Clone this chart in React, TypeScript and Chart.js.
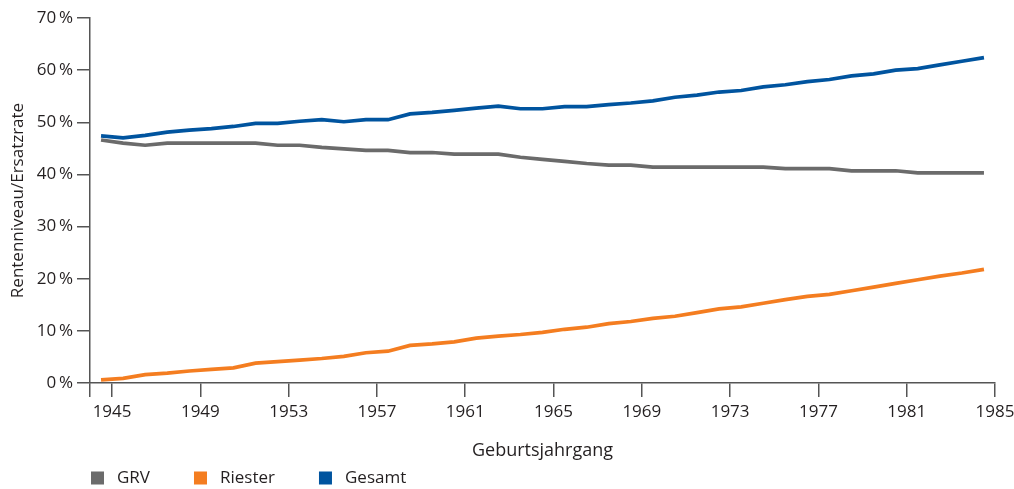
import React, { useEffect, useRef } from 'react';
import { Chart, registerables } from 'chart.js';

Chart.register(...registerables);

// Birth cohorts (Geburtsjahrgang)
const years = [
  1945, 1946, 1947, 1948, 1949, 1950, 1951, 1952, 1953, 1954,
  1955, 1956, 1957, 1958, 1959, 1960, 1961, 1962, 1963, 1964,
  1965, 1966, 1967, 1968, 1969, 1970, 1971, 1972, 1973, 1974,
  1975, 1976, 1977, 1978, 1979, 1980, 1981, 1982, 1983, 1984, 1985,
];

const grv = [
  46.6, 46.0, 45.6, 46.0, 46.0, 46.0, 46.0, 46.0, 45.6, 45.6,
  45.2, 44.9, 44.6, 44.6, 44.2, 44.2, 43.9, 43.9, 43.9, 43.3,
  42.9, 42.5, 42.1, 41.8, 41.8, 41.4, 41.4, 41.4, 41.4, 41.4,
  41.4, 41.1, 41.1, 41.1, 40.7, 40.7, 40.7, 40.3, 40.3, 40.3, 40.3,
];

const riester = [
  0.6, 0.9, 1.6, 1.9, 2.3, 2.6, 2.9, 3.8, 4.1, 4.4,
  4.7, 5.1, 5.8, 6.1, 7.2, 7.5, 7.9, 8.6, 9.0, 9.3,
  9.7, 10.3, 10.7, 11.4, 11.8, 12.4, 12.8, 13.5, 14.2, 14.6,
  15.3, 16.0, 16.6, 17.0, 17.7, 18.4, 19.1, 19.8, 20.5, 21.1, 21.8,
];

const gesamt = [
  47.4, 47.0, 47.5, 48.1, 48.5, 48.8, 49.2, 49.8, 49.8, 50.2,
  50.5, 50.1, 50.5, 50.5, 51.6, 51.9, 52.3, 52.7, 53.1, 52.6,
  52.6, 53.0, 53.0, 53.4, 53.7, 54.1, 54.8, 55.2, 55.8, 56.1,
  56.8, 57.2, 57.8, 58.2, 58.9, 59.3, 60.0, 60.3, 61.0, 61.7, 62.4,
];

const xTickLabels = [1945, 1949, 1953, 1957, 1961, 1965, 1969, 1973, 1977, 1981, 1985];
const xAxisStart = 1944;
const yMin = 0;
const yMax = 70;
const yStep = 10;

const seriesNames = ['GRV', 'Riester', 'Gesamt'];
const seriesColors = ['#6b6b6b', '#f47d20', '#00549f'];

const FONT = '"Open Sans", "Noto Sans", sans-serif';
const TEXT = '#231f20';
const AXIS = '#555555';

// each cohort is drawn in the middle of the year interval that ends at its labelled tick
const toPoints = (vals: number[]) => years.map((yr, i) => ({ x: yr - 0.5, y: vals[i] }));

const legendPlugin = {
  id: 'bottomLegend',
  afterDraw(chart: any) {
    const { ctx, chartArea } = chart;
    ctx.save();
    ctx.font = `17px ${FONT}`;
    ctx.textBaseline = 'middle';
    ctx.textAlign = 'left';
    let x = chartArea.left + 1;
    const y = chart.height - 11;
    chart.data.datasets.forEach((ds: any) => {
      ctx.fillStyle = ds.borderColor;
      ctx.fillRect(x, y - 6.5, 13, 13);
      ctx.fillStyle = TEXT;
      ctx.fillText(ds.label, x + 26, y);
      x += 26 + ctx.measureText(ds.label).width + 44;
    });
    ctx.restore();
  },
};

export default function App() {
  const canvasRef = useRef<HTMLCanvasElement | null>(null);

  useEffect(() => {
    if (!canvasRef.current) return;
    const datasetsRaw = [grv, riester, gesamt];
    const chart = new Chart(canvasRef.current, {
      type: 'line',
      data: {
        datasets: datasetsRaw.map((vals, i) => ({
          label: seriesNames[i],
          data: toPoints(vals),
          borderColor: seriesColors[i],
          backgroundColor: seriesColors[i],
          borderWidth: 3.7,
          pointRadius: 0,
          tension: 0,
          fill: false,
        })),
      },
      options: {
        animation: false,
        responsive: false,
        devicePixelRatio: 1,
        layout: { padding: { top: 18, right: 19, bottom: 0, left: 0 } },
        plugins: {
          legend: { display: false },
          tooltip: { enabled: false },
        },
        scales: {
          x: {
            type: 'linear',
            min: xAxisStart,
            max: xTickLabels[xTickLabels.length - 1],
            afterBuildTicks: (scale: any) => {
              scale.ticks = [xAxisStart, ...xTickLabels].map((v) => ({ value: v }));
            },
            afterFit: (scale: any) => {
              scale.height = 106;
              scale.paddingRight = 0;
              scale.paddingLeft = 0;
            },
            ticks: {
              autoSkip: false,
              maxRotation: 0,
              padding: 5,
              color: TEXT,
              font: { family: FONT, size: 17 },
              callback: (v: any) => (xTickLabels.includes(Number(v)) ? String(v) : ''),
            },
            grid: {
              drawOnChartArea: false,
              drawTicks: true,
              tickLength: 14,
              color: AXIS,
              lineWidth: 1.5,
            },
            border: { display: true, color: AXIS, width: 1.5 },
            title: {
              display: true,
              text: 'Geburtsjahrgang',
              color: TEXT,
              font: { family: FONT, size: 18 },
              padding: { top: 0, bottom: 27 },
            },
          },
          y: {
            type: 'linear',
            min: yMin,
            max: yMax,
            afterFit: (scale: any) => {
              scale.width = 90;
            },
            ticks: {
              stepSize: yStep,
              padding: 4,
              color: TEXT,
              font: { family: FONT, size: 17 },
              callback: (v: any) => `${v}\u2009%`,
            },
            grid: {
              drawOnChartArea: false,
              drawTicks: true,
              tickLength: 13,
              color: AXIS,
              lineWidth: 1.5,
            },
            border: { display: true, color: AXIS, width: 1.5 },
            title: {
              display: true,
              text: 'Rentenniveau/Ersatzrate',
              color: TEXT,
              font: { family: FONT, size: 17 },
              padding: { top: 8, bottom: 0 },
            },
          },
        },
      },
      plugins: [legendPlugin],
    } as any);
    return () => chart.destroy();
  }, []);

  return (
    <div style={{ position: 'absolute', left: 0, top: 0, width: 1014, height: 489, background: '#fff' }}>
      <canvas ref={canvasRef} width={1014} height={489} style={{ width: 1014, height: 489, display: 'block' }} />
    </div>
  );
}
